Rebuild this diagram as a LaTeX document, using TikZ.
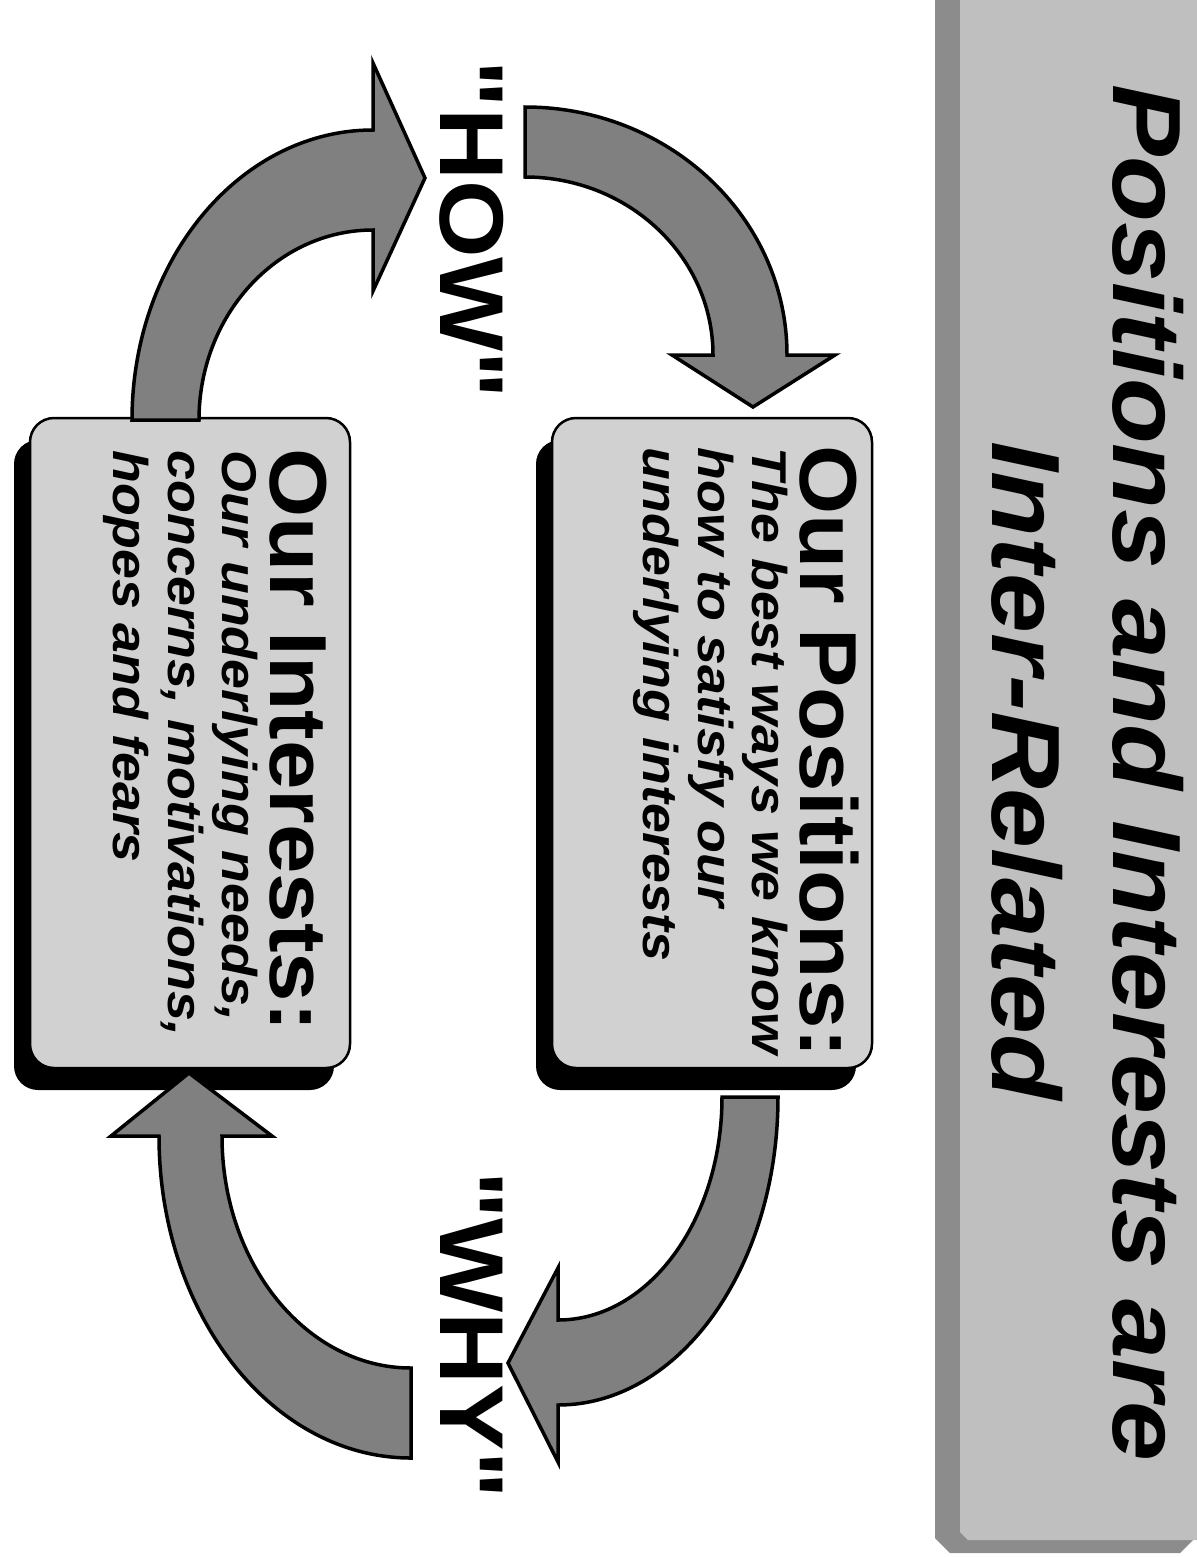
\documentclass[tikz,border=0pt]{standalone}
\usepackage{fontspec}
\setmainfont{Liberation Sans}
\newfontfamily\cuefont{Liberation Sans}
\usetikzlibrary{shadows}
\begin{document}
\begin{tikzpicture}[x=0.1mm, y=-0.1mm,
    slidebox/.style={draw=black, line width=0.25mm, fill=black!18,
      rounded corners=2.4mm, inner sep=0pt,
      minimum width=32mm, minimum height=65mm,
      drop shadow={shadow xshift=-1.6mm, shadow yshift=-2.2mm, fill=black, opacity=1}},
    bigarrow/.style={draw=black, line width=0.35mm, fill=black!50},
    titletext/.style={rotate=-90, xscale=1.11, anchor=base, inner sep=0pt,
      font=\fontsize{27.6}{33}\selectfont\bfseries\itshape},
    cuetext/.style={rotate=-90, xscale=1.1, anchor=base, inner sep=0pt,
      font=\cuefont\fontsize{25.8}{30}\selectfont\bfseries},
    headtext/.style={rotate=-90, xscale=1.1, anchor=base west, inner sep=0pt,
      font=\fontsize{23}{28}\selectfont\bfseries},
    bodytext/.style={rotate=-90, xscale=1.1, anchor=north west, inner sep=0pt,
      align=left, font=\fontsize{13.9}{15.6}\selectfont\bfseries\itshape}]
\useasboundingbox (0,0) rectangle (1197,1557);

% Title banner
\fill[black!45] (935,-20) -- (935,1538) -- (950,1553) -- (1180,1553) -- (1210,1523) -- (1210,-20) -- cycle;
\fill[black!25] (960,-20) -- (960,1532) -- (968,1540) -- (1210,1540) -- (1210,-20) -- cycle;
\node[titletext] (title1) at (1113,773) {Positions and Interests are};
\node[titletext] (title2) at (992,771) {Inter-Related};

% Positions box
\node[slidebox] (posbox) at (712,743) {};
\node[headtext] (poshead) at (800,445) {Our Positions:};
\node[bodytext] (posbody) at (789,447) {The best ways we know\\how to satisfy our\\underlying interests};

% Interests box
\node[slidebox] (intbox) at (190,743) {};
\node[headtext] (inthead) at (270,448) {Our Interests:};
\node[bodytext] (intbody) at (259,450) {Our underlying needs,\\concerns, motivations,\\hopes and fears};

% HOW and WHY
\node[cuetext] (how) at (440,230) {"HOW"};
\node[cuetext] (why) at (440,1335) {"WHY"};

% Arrows
\draw[bigarrow] (525,107) arc[start angle=-90, end angle=0, x radius=262, y radius=248]
  -- (835,355) -- (753,407) -- (672,355) -- (713,355)
  arc[start angle=0, end angle=-90, x radius=188, y radius=178] -- cycle;
\draw[bigarrow] (132,420) arc[start angle=180, end angle=270, x radius=241, y radius=290]
  -- (373,63) -- (425,178) -- (373,291) -- (373,230)
  arc[start angle=270, end angle=180, x radius=174, y radius=190] -- cycle;
\draw[bigarrow] (778,1097) arc[start angle=0, end angle=90, x radius=220, y radius=308]
  -- (558,1462) -- (508,1363) -- (558,1268) -- (558,1320)
  arc[start angle=90, end angle=0, x radius=164, y radius=223] -- cycle;
\draw[bigarrow] (411,1458) arc[start angle=90, end angle=180, x radius=252, y radius=322]
  -- (111,1136) -- (189,1073) -- (272,1136) -- (222,1136)
  arc[start angle=180, end angle=90, x radius=189, y radius=232] -- cycle;
\end{tikzpicture}
\end{document}
